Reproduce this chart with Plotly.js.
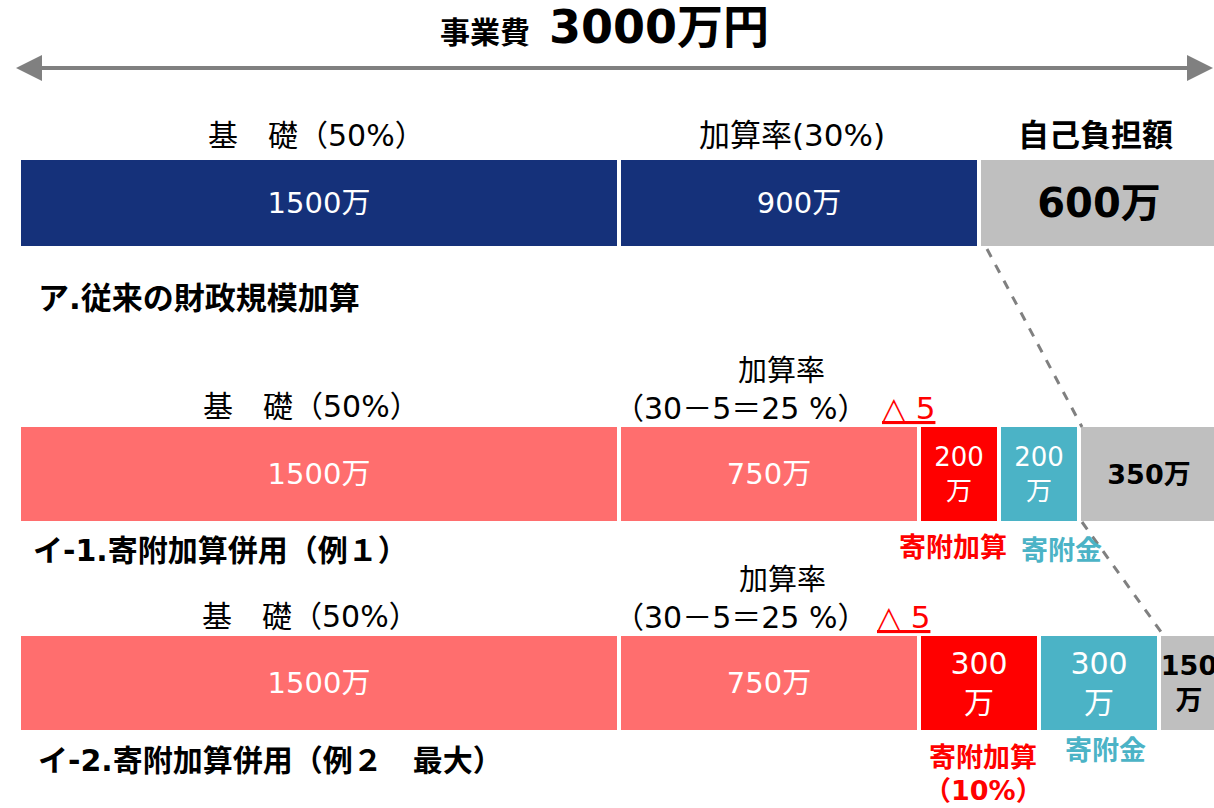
<!DOCTYPE html>
<html>
<head>
<meta charset="utf-8">
<script src="https://cdn.plot.ly/plotly-3.0.1.min.js"></script>
<style>html,body{margin:0;padding:0;background:#fff;overflow:hidden;width:1214px;height:808px;}#chart{width:1240px;height:808px;}</style>
</head>
<body>
<div id="chart"></div>
<script>
// ---- data ----
const totalCost = 3000; // 万円
const row1Labels = ["基礎", "加算率", "自己負担額"];
const row1Values = [1500, 900, 600];
const row2Labels = ["基礎", "加算率", "寄附加算", "寄附金", "自己負担額"];
const row2Values = [1500, 750, 200, 200, 350];
const row3Labels = ["基礎", "加算率", "寄附加算", "寄附金", "自己負担額"];
const row3Values = [1500, 750, 300, 300, 150];
const rowTitles = ["ア.従来の財政規模加算", "イ-1.寄附加算併用（例１）", "イ-2.寄附加算併用（例２　最大）"];

// ---- style ----
const FONT = "DejaVu Sans, Noto Sans CJK JP, sans-serif";
const W = 1240, H = 808;
const px = x => x / W;
const py = y => 1 - y / H;
function colorsFor(row, labels) {
  return labels.map(l => {
    if (l === "自己負担額") return "#bfbfbf";
    if (l === "寄附加算") return "#ff0000";
    if (l === "寄附金") return "#4bb3c6";
    return row === 0 ? "#15317a" : "#ff6e6e";
  });
}
function cumBase(vals) { let s = 0; return vals.map(v => { const b = s; s += v; return b; }); }

function makeTrace(row, labels, values, yaxisName, opts) {
  const text = values.map((v, i) => {
    const l = labels[i];
    if (l === "自己負担額") {
      return opts.twoLineSelf ? "<b>" + v + "<br>万</b>" : "<b>" + v + "万</b>";
    }
    if (l === "寄附加算" || l === "寄附金") return v + "<br>万";
    return v + "万";
  });
  const sizes = labels.map(l => l === "自己負担額" ? opts.selfSize : (l === "寄附加算" || l === "寄附金") ? opts.donSize : 29);
  const fcolors = labels.map(l => l === "自己負担額" ? "#000000" : "#ffffff");
  return {
    type: "bar", orientation: "h",
    x: values, base: cumBase(values), y: values.map(() => 0),
    width: 1,
    yaxis: yaxisName, xaxis: "x",
    marker: { color: colorsFor(row, labels), line: { color: "#ffffff", width: 4 } },
    text: text, textposition: "inside", insidetextanchor: "middle", textangle: 0,
    constraintext: "none", cliponaxis: false,
    textfont: { family: FONT, size: sizes, color: fcolors },
    hoverinfo: "skip", showlegend: false
  };
}

const traces = [
  makeTrace(0, row1Labels, row1Values, "y", { selfSize: 40, donSize: 26, twoLineSelf: false }),
  makeTrace(1, row2Labels, row2Values, "y2", { selfSize: 27, donSize: 26, twoLineSelf: false }),
  makeTrace(2, row3Labels, row3Values, "y3", { selfSize: 27, donSize: 30, twoLineSelf: true })
];

function ann(text, x, y, size, color, opts) {
  opts = opts || {};
  return Object.assign({
    text: text, x: px(x), y: py(y), xref: "paper", yref: "paper",
    xanchor: "center", yanchor: "middle", showarrow: false,
    font: { family: FONT, size: size, color: color || "#000" }
  }, opts);
}

const annotations = [
  ann("<b>事業費</b>  <b><span style='font-size:46px'>" + totalCost + "万円</span></b>", 604, 27, 30, "#000"),
  // double arrow heads
  { x: px(16), y: py(68), ax: px(300), ay: py(68), xref: "paper", yref: "paper", axref: "paper", ayref: "paper",
    showarrow: true, arrowhead: 2, arrowsize: 1.3, arrowwidth: 4, arrowcolor: "#808080", text: "" },
  { x: px(1213), y: py(68), ax: px(900), ay: py(68), xref: "paper", yref: "paper", axref: "paper", ayref: "paper",
    showarrow: true, arrowhead: 2, arrowsize: 1.3, arrowwidth: 4, arrowcolor: "#808080", text: "" },
  // row 1
  ann("基　礎（50%）", 317, 135, 30),
  ann("加算率(30%)", 792, 135, 31),
  ann("<b>自己負担額</b>", 1095, 135, 31),
  ann("<b>" + rowTitles[0] + "</b>", 36, 298, 31, "#000", { xanchor: "left" }),
  // row 2
  ann("加算率", 781, 371, 29),
  ann("基　礎（50%）", 311, 406, 30),
  ann("（30－5＝25 %）", 740, 408, 30),
  ann("<span style='text-decoration:underline'>△ 5</span>", 908, 408, 31, "#ff0000"),
  ann("<b>寄附加算</b>", 953, 547, 27, "#ff0000"),
  ann("<b>寄附金</b>", 1061, 550, 27, "#4bb3c6"),
  ann("<b>" + rowTitles[1] + "</b>", 31, 550, 30, "#000", { xanchor: "left" }),
  // row 3
  ann("加算率", 782, 580, 29),
  ann("基　礎（50%）", 310, 616, 30),
  ann("（30－5＝25 %）", 740, 617, 30),
  ann("<span style='text-decoration:underline'>△ 5</span>", 903, 617, 31, "#ff0000"),
  ann("<b>寄附加算</b>", 983, 757, 27, "#ff0000"),
  ann("<b>（10%）</b>", 983, 807, 27, "#ff0000", { yanchor: "bottom", borderpad: 0 }),
  ann("<b>寄附金</b>", 1105, 750, 27, "#4bb3c6"),
  ann("<b>" + rowTitles[2] + "</b>", 36, 760, 30, "#000", { xanchor: "left" })
];

const shapes = [
  { type: "line", xref: "paper", yref: "paper", x0: px(24), x1: px(1205), y0: py(68), y1: py(68), line: { color: "#808080", width: 4 } },
  { type: "line", xref: "paper", yref: "paper", x0: px(987), y0: py(249), x1: px(1082), y1: py(427), line: { color: "#808080", width: 3, dash: "dash" } },
  { type: "line", xref: "paper", yref: "paper", x0: px(1082), y0: py(522), x1: px(1164), y1: py(636), line: { color: "#808080", width: 3, dash: "dash" } }
];

const pxPerUnit = 0.4, x0px = 19;
const layout = {
  width: W, height: H,
  margin: { l: 0, r: 0, t: 0, b: 0 },
  paper_bgcolor: "#fff", plot_bgcolor: "rgba(0,0,0,0)",
  barmode: "overlay",
  xaxis: { range: [-x0px / pxPerUnit, (W - x0px) / pxPerUnit], visible: false, fixedrange: true },
  yaxis: { domain: [py(248), py(158)], range: [-0.5, 0.5], visible: false, fixedrange: true },
  yaxis2: { domain: [py(523), py(425)], range: [-0.5, 0.5], visible: false, fixedrange: true, anchor: "x" },
  yaxis3: { domain: [py(732), py(634)], range: [-0.5, 0.5], visible: false, fixedrange: true, anchor: "x" },
  annotations: annotations,
  shapes: shapes,
  font: { family: FONT }
};

Plotly.newPlot("chart", traces, layout, { displayModeBar: false, staticPlot: true });
</script>
</body>
</html>
